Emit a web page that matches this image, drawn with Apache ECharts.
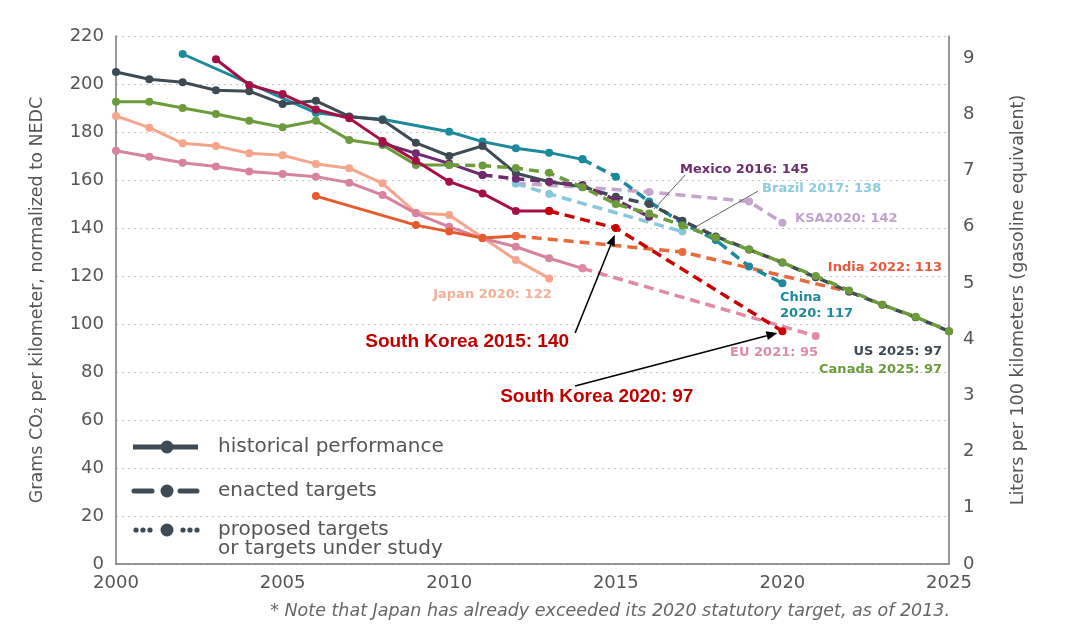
<!DOCTYPE html>
<html>
<head>
<meta charset="utf-8">
<script src="https://cdn.jsdelivr.net/npm/echarts@6/dist/echarts.min.js"></script>
<style>
html,body{margin:0;padding:0;background:#fff;}
#c{width:1068px;height:636px;}
</style>
</head>
<body>
<div id="c"></div>
<script>
// ---- data (year, g CO2/km) ----
const xTicks = [2000, 2005, 2010, 2015, 2020, 2025];
const usHist = [[2000,205],[2001,202],[2002,200.7],[2003,197.4],[2004,197],[2005,191.7],[2006,193],[2007,186.5],[2008,185],[2009,175.5],[2010,170],[2011,174.2],[2012,162.8],[2013,159.3],[2014,157.2]];
const usTarget = [[2014,157.2],[2015,153],[2016,150],[2017,143],[2018,136.5],[2019,131],[2020,125.6],[2021,119.5],[2022,113.5],[2023,108],[2024,102.8],[2025,97]];
const canadaHist = [[2000,192.6],[2001,192.6],[2002,190],[2003,187.5],[2004,184.7],[2005,182],[2006,184.7],[2007,176.7],[2008,174.6],[2009,166.3],[2010,166.3]];
const canadaTarget = [[2010,166.3],[2011,166],[2012,165],[2013,163],[2014,157],[2015,150],[2016,146],[2017,141],[2018,136],[2019,131],[2020,125.6],[2021,120],[2022,114],[2023,108],[2024,103],[2025,97]];
const chinaHist = [[2002,212.5],[2006,188],[2007,186.4],[2008,185.3],[2010,180.1],[2011,176],[2012,173.2],[2013,171.4],[2014,168.6]];
const chinaTarget = [[2014,168.6],[2015,161.4],[2016,151],[2017,142],[2018,135],[2019,124],[2020,117]];
const euHist = [[2000,172.2],[2001,169.7],[2002,167.2],[2003,165.6],[2004,163.5],[2005,162.5],[2006,161.4],[2007,158.9],[2008,153.7],[2009,146.1],[2010,140.5],[2011,135.7],[2012,132.2],[2013,127.4],[2014,123.2]];
const euTarget = [[2014,123.2],[2021,95]];
const japanHist = [[2000,186.7],[2001,181.8],[2002,175.3],[2003,174.2],[2004,171.1],[2005,170.3],[2006,166.7],[2007,164.9],[2008,158.6],[2009,146.4],[2010,145.4],[2011,136],[2012,126.7],[2013,119]];
const indiaHist = [[2006,153.3],[2009,141.2],[2010,138.5],[2011,135.8],[2012,136.7]];
const indiaTarget = [[2012,136.7],[2017,130],[2022,113.5]];
const mexicoHist = [[2008,175.3],[2009,171.1],[2010,166.9],[2011,162.1]];
const mexicoTarget = [[2011,162.1],[2012,160.5],[2013,159.3],[2014,157.9],[2015,151.7],[2016,144.7]];
const brazilTarget = [[2012,158.5],[2013,154.2],[2017,138.5]];
const ksaTarget = [[2012,158.6],[2014,157],[2016,155],[2019,151],[2020,142.2]];
const koreaHist = [[2003,210.3],[2004,199.6],[2005,195.8],[2006,189.4],[2007,185.7],[2008,176.3],[2009,168],[2010,159.3],[2011,154.4],[2012,147.1],[2013,147.1]];
const koreaTarget = [[2013,147.1],[2015,140],[2020,97]];

const labels = [
  {text:'Mexico 2016: 145', at:[2016.93,164.2], color:'#6e2c6f', align:'left'},
  {text:'Brazil 2017: 138', at:[2019.39,156.2], color:'#8ccbe0', align:'left'},
  {text:'KSA2020: 142', at:[2020.38,143.7], color:'#c2a2cc', align:'left'},
  {text:'India 2022: 113', at:[2024.79,123.3], color:'#e8583a', align:'right'},
  {text:'China\n2020: 117', at:[2019.93,107.7], color:'#1d8a9c', align:'left'},
  {text:'EU 2021: 95', at:[2018.43,87.9], color:'#e08aa8', align:'left'},
  {text:'US 2025: 97', at:[2024.79,88.3], color:'#3e4b54', align:'right'},
  {text:'Canada 2025: 97', at:[2024.79,80.8], color:'#6c9b3c', align:'right'},
  {text:'Japan 2020: 122', at:[2009.52,112.1], color:'#f4b09a', align:'left'}
];
const koreaLabels = [
  {text:'South Korea 2015: 140', at:[2007.48,92.5]},
  {text:'South Korea 2020: 97', at:[2011.53,69.6]}
];
const arrows = [
  [[2013.78,96.3],[2014.97,137.2]],
  [[2013.78,74.2],[2019.85,96.3]]
];
const leaders = [
  [[2017.08,162.1],[2016.15,147.9]],
  [[2019.27,155.4],[2017.44,140.8]]
];

const FONT = '"DejaVu Sans", sans-serif';
function hist(name, data, color, z){
  return {name, type:'line', data, z:z||2, symbol:'circle', symbolSize:8, showSymbol:true,
    lineStyle:{color, width:3}, itemStyle:{color}, silent:true};
}
function target(name, data, color, z){
  return {name, type:'line', data, z:z||2, symbol:'circle', symbolSize:8,
    lineStyle:{color, width:3.5, type:[10,6]}, itemStyle:{color}, silent:true};
}
const chart = echarts.init(document.getElementById('c'));
const series = [
  hist('Japan', japanHist, '#f4a58c'),
  hist('EU', euHist, '#d7829f'),
  target('EU t', euTarget, '#e08aa8'),
  hist('India', indiaHist, '#e75a2b'),
  target('India t', indiaTarget, '#e86a3a'),
  target('KSA t', ksaTarget, '#c4a6cc'),
  target('Brazil t', brazilTarget, '#88c8da'),
  hist('Canada', canadaHist, '#6c9b3c'),
  hist('China', chinaHist, '#1d8a9c'),
  target('China t', chinaTarget, '#1d8a9c'),
  hist('US', usHist, '#3e4b54'),
  target('US t', usTarget, '#3e4b54'),
  target('Canada t', canadaTarget, '#6c9b3c', 3),
  hist('Mexico', mexicoHist, '#6e2c6f'),
  target('Mexico t', mexicoTarget, '#6e2c6f'),
  hist('South Korea', koreaHist, '#a50f45', 4),
  target('South Korea t', koreaTarget, '#cc0000', 4)
];

chart.setOption({
  animation:false,
  grid:{left:116, right:119, top:36, bottom:72},
  xAxis:{type:'value', min:2000, max:2025, interval:5,
    axisLine:{show:true, lineStyle:{color:'#777', width:1.5}}, axisTick:{show:false},
    splitLine:{show:false},
    axisLabel:{color:'#555', fontSize:18, fontFamily:FONT, margin:10, formatter:v=>String(v)}},
  yAxis:[
    {type:'value', min:0, max:220, interval:20, position:'left',
      name:'Grams CO\u2082 per kilometer, normalized to NEDC', nameLocation:'middle', nameGap:70,
      nameTextStyle:{color:'#555', fontSize:17.5, fontFamily:FONT},
      axisLine:{show:true, lineStyle:{color:'#777', width:1.5}}, axisTick:{show:false},
      splitLine:{show:true, lineStyle:{color:'#c4c4c4', type:[2,4], width:1}},
      axisLabel:{color:'#555', fontSize:18, fontFamily:FONT, margin:12}},
    {type:'value', min:0, max:9.39, interval:1, position:'right',
      name:'Liters per 100 kilometers (gasoline equivalent)', nameLocation:'middle', nameGap:60, nameRotate:90,
      nameTextStyle:{color:'#555', fontSize:17.5, fontFamily:FONT},
      axisLine:{show:true, lineStyle:{color:'#777', width:1.5}}, axisTick:{show:false},
      splitLine:{show:false},
      axisLabel:{color:'#555', fontSize:18, fontFamily:FONT, margin:14, formatter:v=>Number.isInteger(v)?String(v):''}}
  ],
  series
});

function px(p){ return chart.convertToPixel({xAxisIndex:0, yAxisIndex:0}, p); }
const graphic = [];
labels.forEach(l => {
  const p = px(l.at);
  graphic.push({type:'text', x:p[0], y:p[1], silent:true, z:10,
    style:{text:l.text, fill:l.color, font:'bold 13px '+FONT, textAlign:l.align, textVerticalAlign:'middle', lineHeight:16}});
});
koreaLabels.forEach(l => {
  const p = px(l.at);
  graphic.push({type:'text', x:p[0], y:p[1], silent:true, z:10,
    style:{text:l.text, fill:'#c00000', font:'bold 19px "Liberation Sans", Arial, sans-serif', textAlign:'left', textVerticalAlign:'middle'}});
});
leaders.forEach(l => {
  const a = px(l[0]), b = px(l[1]);
  graphic.push({type:'line', shape:{x1:a[0],y1:a[1],x2:b[0],y2:b[1]}, style:{stroke:'#666', lineWidth:1}, silent:true, z:9});
});
arrows.forEach(l => {
  const a = px(l[0]), b = px(l[1]);
  const ang = Math.atan2(b[1]-a[1], b[0]-a[0]);
  const L = 11, W = 4.5;
  const bx = b[0] - L*Math.cos(ang), by = b[1] - L*Math.sin(ang);
  graphic.push({type:'line', shape:{x1:a[0],y1:a[1],x2:bx,y2:by}, style:{stroke:'#000', lineWidth:1.5}, silent:true, z:9});
  graphic.push({type:'polygon', shape:{points:[[b[0],b[1]],[bx - W*Math.sin(ang), by + W*Math.cos(ang)],[bx + W*Math.sin(ang), by - W*Math.cos(ang)]]},
    style:{fill:'#000'}, silent:true, z:9});
});
// legend
const LC = '#3e4b54';
const legendRows = [
  {y:447, kind:'solid', text:'historical performance'},
  {y:491, kind:'dashed', text:'enacted targets'},
  {y:530, kind:'dotted', text:'proposed targets\nor targets under study'}
];
legendRows.forEach(r => {
  if (r.kind === 'solid') {
    graphic.push({type:'line', shape:{x1:133,y1:r.y,x2:198,y2:r.y}, style:{stroke:LC, lineWidth:5}, silent:true});
  } else if (r.kind === 'dashed') {
    graphic.push({type:'line', shape:{x1:134,y1:r.y,x2:152,y2:r.y}, style:{stroke:LC, lineWidth:5, lineCap:'round'}, silent:true});
    graphic.push({type:'line', shape:{x1:180,y1:r.y,x2:197,y2:r.y}, style:{stroke:LC, lineWidth:5, lineCap:'round'}, silent:true});
  } else {
    [136,143,150,183,190,197].forEach(cx => graphic.push({type:'circle', shape:{cx, cy:r.y, r:2.6}, style:{fill:LC}, silent:true}));
  }
  graphic.push({type:'circle', shape:{cx:167, cy:r.y, r:6.5}, style:{fill:LC}, silent:true});
  graphic.push({type:'text', x:218, y: r.kind==='dotted' ? r.y-10 : r.y, silent:true,
    style:{text:r.text, fill:'#555', font:'20px '+FONT, textVerticalAlign: r.kind==='dotted' ? 'top' : 'middle', lineHeight:19}});
});
graphic.push({type:'text', x:950, y:611, silent:true,
  style:{text:'* Note that Japan has already exceeded its 2020 statutory target, as of 2013.', fill:'#666', font:'italic 17.5px '+FONT, textAlign:'right', textVerticalAlign:'middle'}});
chart.setOption({graphic});
</script>
</body>
</html>
